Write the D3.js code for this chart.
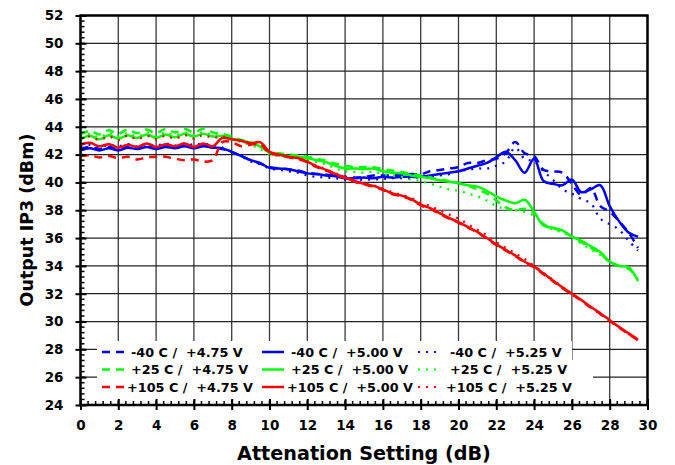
<!DOCTYPE html>
<html>
<head>
<meta charset="utf-8">
<script src="https://cdn.jsdelivr.net/npm/d3@7"></script>
<style>
    body { margin: 0; background: #fff; }
    text { font-family: "DejaVu Sans", Verdana, sans-serif; font-weight: bold; fill: #000; }
    .leg { white-space: pre; }
</style>
</head>
<body>
<main></main>
<script>
const width = 675;
const height = 465;

// attenuation setting (dB)
const xValues = [0,0.5,1,1.5,2,2.5,3,3.5,4,4.5,5,5.5,6,6.5,7,7.5,8,8.5,9,9.5,
    10,10.5,11,11.5,12,12.5,13,13.5,14,14.5,15,15.5,16,16.5,17,17.5,18,18.5,19,19.5,
    20,20.5,21,21.5,22,22.5,23,23.5,24,24.5,25,25.5,26,26.5,27,27.5,28,28.5,29,29.5];

// output IP3 (dBm) per temperature / supply
const m40_475 = [42.4,42.55,42.4,42.55,42.4,42.6,42.45,42.6,42.5,42.65,
    42.5,42.65,42.5,42.65,42.5,42.4,42.2,41.9,41.6,41.35,
    41.1,41.0,40.95,40.85,40.7,40.6,40.55,40.5,40.4,40.35,
    40.4,40.5,40.5,40.5,40.55,40.6,40.6,40.8,40.9,41.0,
    41.1,41.4,41.4,41.6,41.7,42.1,42.9,42.1,41.9,40.9,
    40.8,40.7,39.9,39.1,39.6,38.3,37.9,37.2,36.4,35.3];
const m40_500 = [42.3,42.45,42.3,42.45,42.3,42.5,42.4,42.55,42.4,42.55,
    42.45,42.6,42.45,42.6,42.5,42.45,42.2,41.9,41.6,41.4,
    41.05,41.0,40.95,40.8,40.65,40.6,40.5,40.45,40.3,40.3,
    40.35,40.3,40.4,40.35,40.4,40.4,40.4,40.5,40.6,40.7,
    40.8,41.0,41.2,41.4,41.8,42.2,41.6,40.7,41.7,40.1,
    39.9,39.8,40.2,39.3,39.5,39.8,38.3,37.2,36.4,36.1];
const m40_525 = [42.6,42.7,42.55,42.7,42.6,42.75,42.6,42.75,42.65,42.8,
    42.65,42.8,42.7,42.8,42.65,42.5,42.2,41.9,41.5,41.3,
    41.0,40.9,40.8,40.7,40.5,40.4,40.35,40.3,40.2,40.15,
    40.2,40.2,40.25,40.3,40.3,40.3,40.4,40.45,40.5,40.6,
    40.8,40.9,41.0,41.0,41.2,41.5,42.5,41.7,41.5,40.8,
    40.2,39.5,39.2,38.8,38.5,37.4,37.0,36.6,35.8,35.1];
const p25_475 = [43.45,43.7,43.45,43.75,43.5,43.8,43.55,43.8,43.55,43.85,
    43.6,43.85,43.6,43.85,43.6,43.5,43.3,43.05,42.9,42.6,
    42.2,42.1,42.0,41.95,41.85,41.7,41.55,41.35,41.2,41.1,
    41.1,41.1,40.95,40.85,40.75,40.6,40.5,40.35,40.2,40.1,
    39.95,39.75,39.5,39.2,38.7,38.2,38.0,38.1,37.8,37.0,
    36.7,36.5,36.1,35.7,35.3,34.9,34.3,34.0,33.8,33.0];
const p25_500 = [43.1,43.35,43.1,43.4,43.15,43.4,43.2,43.45,43.2,43.45,
    43.25,43.5,43.3,43.5,43.3,43.35,43.15,43.0,42.85,42.6,
    42.15,42.0,41.9,41.85,41.75,41.6,41.45,41.2,41.0,41.0,
    40.95,41.0,40.8,40.7,40.65,40.5,40.4,40.3,40.15,40.05,
    39.95,39.8,39.7,39.4,39.0,38.7,38.5,38.75,37.9,36.9,
    36.75,36.55,36.1,35.8,35.4,35.0,34.3,34.0,33.9,32.9];
const p25_525 = [43.25,43.5,43.25,43.55,43.3,43.55,43.3,43.6,43.35,43.6,
    43.4,43.6,43.4,43.6,43.4,43.4,43.1,42.9,42.7,42.4,
    42.0,41.9,41.8,41.7,41.6,41.45,41.3,41.0,40.8,40.75,
    40.7,40.75,40.6,40.5,40.4,40.2,40.1,39.9,39.7,39.5,
    39.4,39.2,39.0,38.7,38.3,38.1,38.0,37.9,37.6,37.0,
    36.6,36.4,36.0,35.6,35.2,34.8,34.3,34.0,33.8,33.0];
const p105_475 = [41.9,41.95,41.8,41.9,41.75,41.85,41.65,41.8,41.85,41.85,
    41.7,41.6,41.65,41.5,41.6,42.9,42.9,42.6,42.7,42.75,
    42.1,41.95,41.8,41.7,41.45,41.1,40.85,40.55,40.3,40.05,
    39.85,39.7,39.45,39.15,39.0,38.75,38.35,38.1,37.75,37.4,
    37.1,36.75,36.4,35.95,35.5,35.1,34.7,34.25,33.9,33.4,
    32.9,32.4,31.95,31.5,31.0,30.55,30.05,29.55,29.1,28.65];
const p105_500 = [42.7,42.85,42.6,42.75,42.5,42.7,42.55,42.8,42.55,42.75,
    42.6,42.8,42.55,42.8,42.6,43.2,43.1,43.0,42.8,42.9,
    42.2,42.0,41.85,41.75,41.5,41.15,40.9,40.6,40.35,40.1,
    39.9,39.75,39.5,39.2,39.05,38.8,38.4,38.15,37.8,37.45,
    37.15,36.8,36.45,36.0,35.55,35.15,34.75,34.3,33.95,33.45,
    32.95,32.45,32.0,31.55,31.05,30.6,30.1,29.6,29.15,28.7];
const p105_525 = [43.1,43.3,43.05,43.3,43.05,43.35,43.1,43.35,43.1,43.35,
    43.15,43.4,43.15,43.4,43.2,43.3,43.1,43.0,42.85,42.7,
    42.2,42.0,41.85,41.7,41.5,41.2,40.95,40.65,40.4,40.15,
    39.95,39.8,39.55,39.3,39.1,38.9,38.55,38.3,38.0,37.7,
    37.4,37.0,36.6,36.2,35.7,35.3,34.9,34.5,34.0,33.5,
    33.0,32.5,32.0,31.55,31.05,30.55,30.05,29.6,29.1,28.7];

const xTicks = [0,2,4,6,8,10,12,14,16,18,20,22,24,26,28,30];
const yTicks = [24,26,28,30,32,34,36,38,40,42,44,46,48,50,52];

const seriesLabels = [
    "-40 C /  +4.75 V", "-40 C /  +5.00 V", "-40 C /  +5.25 V",
    "+25 C /  +4.75 V", "+25 C /  +5.00 V", "+25 C /  +5.25 V",
    "+105 C /  +4.75 V", "+105 C /  +5.00 V", "+105 C /  +5.25 V"
];
const seriesValues = [m40_475, m40_500, m40_525, p25_475, p25_500, p25_525, p105_475, p105_500, p105_525];
const seriesColors = ["#0000ff", "#0000ff", "#0000ff", "#00ff00", "#00ff00", "#00ff00", "#ff0000", "#ff0000", "#ff0000"];
const dashes = ["8,6", null, "2,6"];

const plot = {left: 80.5, right: 647.5, top: 15.5, bottom: 405};

const createCanvas = () => {
    return d3.select("main")
             .append("svg")
             .attr("width", width)
             .attr("height", height);
};

const calculateScales = () => {
    const xScale = d3.scaleLinear()
                     .domain([0, 30])
                     .range([plot.left, plot.right]);
    const yScale = d3.scaleLinear()
                     .domain([24, 52])
                     .range([plot.bottom, plot.top]);
    return {xScale, yScale};
};

const createGrid = (scales, svg) => {
    svg.append("g")
       .selectAll("line")
       .data(xTicks)
       .enter()
       .append("line")
       .attr("x1", (d) => scales.xScale(d))
       .attr("x2", (d) => scales.xScale(d))
       .attr("y1", plot.top)
       .attr("y2", plot.bottom)
       .attr("stroke", "#3a3a3a")
       .attr("stroke-width", 1.3);

    svg.append("g")
       .selectAll("line")
       .data(yTicks)
       .enter()
       .append("line")
       .attr("x1", plot.left)
       .attr("x2", plot.right)
       .attr("y1", (d) => scales.yScale(d))
       .attr("y2", (d) => scales.yScale(d))
       .attr("stroke", "#222")
       .attr("stroke-width", 1.2);
};

const createLines = (scales, svg) => {
    const line = d3.line()
                   .x((d, i) => scales.xScale(xValues[i]))
                   .y((d) => scales.yScale(d))
                   .curve(d3.curveCatmullRom);
    // blue first, red last (red sits on top)
    seriesValues.forEach((values, k) => {
        svg.append("path")
           .datum(values)
           .attr("d", line)
           .attr("fill", "none")
           .attr("stroke", seriesColors[k])
           .attr("stroke-width", k % 3 === 2 ? 2.2 : 2.5)
           .attr("stroke-dasharray", dashes[k % 3]);
    });
};

const createLegend = (svg) => {
    // white legend box, first row is a bit shorter on the right
    svg.append("rect")
       .attr("x", 97)
       .attr("y", 341)
       .attr("width", 475)
       .attr("height", 59)
       .attr("fill", "#fff");
    svg.append("rect")
       .attr("x", 560)
       .attr("y", 360)
       .attr("width", 33)
       .attr("height", 40)
       .attr("fill", "#fff");

    const colX = [102, 262, 418];
    const textX = [131, 291, 450];
    const rowY = [352, 369.5, 387];
    seriesLabels.forEach((label, k) => {
        const col = k % 3;
        const row = Math.floor(k / 3);
        svg.append("line")
           .attr("x1", colX[col])
           .attr("x2", colX[col] + 22)
           .attr("y1", rowY[row])
           .attr("y2", rowY[row])
           .attr("stroke", seriesColors[k])
           .attr("stroke-width", col === 2 ? 2.2 : 2.5)
           .attr("stroke-dasharray", dashes[col]);
        svg.append("text")
           .attr("class", "leg")
           .attr("x", textX[col] - (row === 2 ? 4 : 0))
           .attr("y", rowY[row] + 4.5)
           .style("font-size", "12.8px")
           .text(label);
    });
};

const createAxes = (scales, svg) => {
    // frame
    svg.append("rect")
       .attr("x", plot.left)
       .attr("y", plot.top)
       .attr("width", plot.right - plot.left)
       .attr("height", plot.bottom - plot.top)
       .attr("fill", "none")
       .attr("stroke", "#000")
       .attr("stroke-width", 2.5);

    const xMinor = d3.range(0, 30.01, 0.4);
    const yMinor = d3.range(24, 52.01, 0.4);

    svg.append("g")
       .selectAll("line")
       .data(xMinor)
       .enter()
       .append("line")
       .attr("x1", (d) => scales.xScale(d))
       .attr("x2", (d) => scales.xScale(d))
       .attr("y1", plot.bottom - 4)
       .attr("y2", plot.bottom)
       .attr("stroke", "#000")
       .attr("stroke-width", 1.5);

    svg.append("g")
       .selectAll("line")
       .data(yMinor)
       .enter()
       .append("line")
       .attr("x1", plot.left)
       .attr("x2", plot.left + 4)
       .attr("y1", (d) => scales.yScale(d))
       .attr("y2", (d) => scales.yScale(d))
       .attr("stroke", "#000")
       .attr("stroke-width", 1.5);

    svg.append("g")
       .attr("transform", `translate(0, ${plot.bottom})`)
       .call(d3.axisBottom(scales.xScale).tickValues(xTicks).tickSizeInner(5).tickSizeOuter(0).tickPadding(10))
       .call((g) => g.select(".domain").remove())
       .call((g) => g.selectAll(".tick line").attr("y1", -6).attr("stroke-width", 2))
       .call((g) => g.selectAll(".tick text").style("font-size", "13.5px").attr("font-family", null));

    svg.append("g")
       .attr("transform", `translate(${plot.left}, 0)`)
       .call(d3.axisLeft(scales.yScale).tickValues(yTicks).tickSizeInner(5).tickSizeOuter(0).tickPadding(12))
       .call((g) => g.select(".domain").remove())
       .call((g) => g.selectAll(".tick line").attr("x1", 6).attr("stroke-width", 2))
       .call((g) => g.selectAll(".tick text").style("font-size", "13.5px").attr("font-family", null));

    svg.append("text")
       .attr("x", 364)
       .attr("y", 460)
       .attr("text-anchor", "middle")
       .style("font-size", "19.2px")
       .text("Attenation Setting (dB)");

    svg.append("text")
       .attr("transform", "rotate(-90)")
       .attr("x", -220)
       .attr("y", 33)
       .attr("text-anchor", "middle")
       .style("font-size", "17.5px")
       .text("Output IP3 (dBm)");
};

const driver = () => {
    const svg = createCanvas();
    const scales = calculateScales();
    createGrid(scales, svg);
    createLines(scales, svg);
    createLegend(svg);
    createAxes(scales, svg);
};

driver();
</script>
</body>
</html>
